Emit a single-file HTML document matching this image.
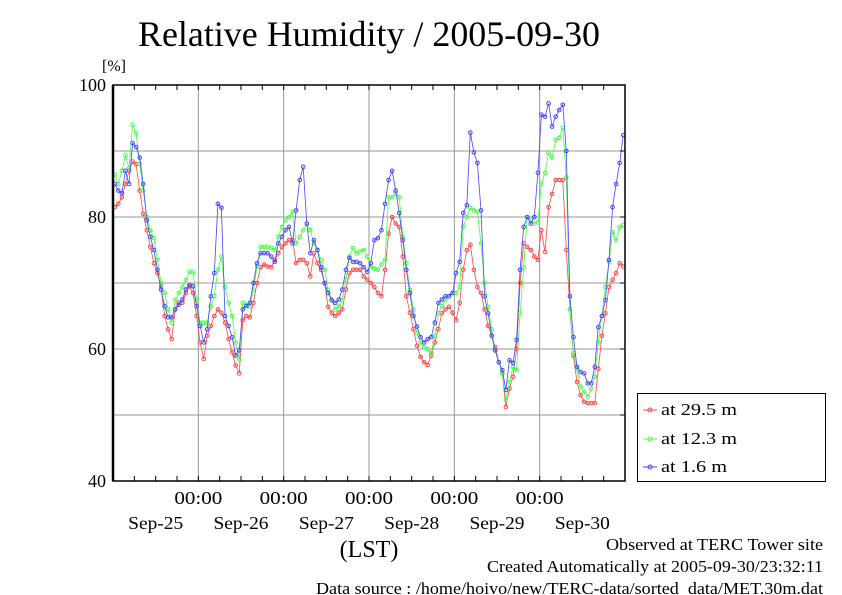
<!DOCTYPE html>
<html><head><meta charset="utf-8"><style>
body{margin:0;background:#fff}
svg{display:block;font-family:"Liberation Serif",serif}
</style></head><body>
<svg id="chart" width="842" height="595" viewBox="0 0 842 595" xmlns="http://www.w3.org/2000/svg">
<text x="369" y="46" font-size="36" text-anchor="middle" textLength="462" lengthAdjust="spacingAndGlyphs">Relative Humidity / 2005-09-30</text>
<text x="114" y="71" font-size="16" text-anchor="middle">[%]</text>
<g id="grid"></g>
<g id="series"></g>
<g id="axes"></g>
<text x="369" y="557" font-size="24" text-anchor="middle">(LST)</text>
<g>
<rect x="637.5" y="393.5" width="188" height="88" fill="#fff" stroke="#000" stroke-width="1"/>
<g><line x1="643" y1="410" x2="657" y2="410" stroke="#f44"/><circle cx="650" cy="410" r="2" fill="none" stroke="#f44"/><text x="661" y="415" font-size="17" textLength="76" lengthAdjust="spacingAndGlyphs">at 29.5 m</text></g>
<g><line x1="643" y1="439" x2="657" y2="439" stroke="#4f4"/><circle cx="650" cy="439" r="2" fill="none" stroke="#4f4"/><text x="661" y="444" font-size="17" textLength="76" lengthAdjust="spacingAndGlyphs">at 12.3 m</text></g>
<g><line x1="643" y1="467" x2="657" y2="467" stroke="#44f"/><circle cx="650" cy="467" r="2" fill="none" stroke="#44f"/><text x="661" y="472" font-size="17" textLength="66" lengthAdjust="spacingAndGlyphs">at 1.6 m</text></g>
</g>
<text x="823" y="550" font-size="17" text-anchor="end" textLength="217" lengthAdjust="spacingAndGlyphs">Observed at TERC Tower site</text>
<text x="823" y="572" font-size="17" text-anchor="end" textLength="336" lengthAdjust="spacingAndGlyphs">Created Automatically at 2005-09-30/23:32:11</text>
<text x="823" y="594" font-size="17" text-anchor="end" textLength="507" lengthAdjust="spacingAndGlyphs">Data source : /home/hoivo/new/TERC-data/sorted_data/MET.30m.dat</text>
</svg>
<script>
const yTicks=[40,60,80,100];
const yGrid=[50,60,70,80,90];
const dayLabels=["Sep-25","Sep-26","Sep-27","Sep-28","Sep-29","Sep-30"];
const red=[81.5,82,83,85,87,88.4,88,84,80.5,78,75.5,73,71.5,69.5,65,63,61.5,66,67,67,68.5,69.5,68.5,65,
61,58.5,62,63.5,65,66,65.5,64,61.5,59.5,57.5,56.3,64.4,65,64.8,67,70,72.4,72.8,72.5,72.4,73.5,74.5,75.5,
76,76.5,76.5,73,73.5,73.5,73,71,74.5,73,72,70,66.4,65.5,65,65.5,66,69,71.5,72,72,72,71,70.5,
70,69.4,68.5,68,72,77.5,80,79,78.5,74,68,65.5,63,60.5,58.8,58,57.6,59,61,63,65.4,66,66.4,65.5,
64.4,67,72,75,75.8,72,69.4,68.5,66,63.5,62,60.3,58,56.3,51.2,54,55.8,60,70,76,75.5,75,74,73.5,
78,74.7,81.5,83.5,85.6,85.6,85.6,75,66,59,55,53,52,51.8,51.8,51.8,57,62,65.4,69.4,70.5,71.5,73,72.5];
const green=[86.4,85,87,89.4,87.4,94,92.7,88,84,80,78,76.8,73.5,70,68.5,66,64,67.4,68.5,69.4,70.5,71.7,71.6,67.5,
64,64,64,66.5,68,72,74,69.4,67,65,61,58.4,67,66.7,66.4,69,72.5,75.5,75.5,75.5,75.3,75,77,78.5,
79.5,80,80.8,76,77,78,79,78,76,75,73.5,72,69,67.5,66,66.5,67.4,70.5,74,75.3,74.5,74.8,75,74,
72.4,72.2,72,72.8,73.5,83,83,83.6,83,77,73,69,66,62.4,61,60.3,60,59.4,62,65.4,66.5,67.4,68,68.5,
68.5,69.4,78.5,80,81.4,81,80.8,76,70,66.4,63,59.8,58,56.3,52.3,55,57.3,56.8,65.4,72.4,80,79.5,79,79.2,
85,86.7,89.7,89,91.7,92,93.5,86,66,59.4,57,54.3,53.5,52.8,54,55.8,61,65,69.4,73.2,77.7,76.5,78.5,78.8];
const blue=[85,84,83.6,87,85,91.2,90.6,89,85,79.5,77,75,72,69,66.5,64.8,64.8,66,66.7,67.5,69,69.7,69.5,66.5,
63.5,61,63,68,71.5,82,81.4,65,63.5,61.8,59,59.8,66,66.5,67,70,73,74.5,74.5,74.5,74,73.2,76,77,
78,78.5,76,81,85.6,87.6,79,74.5,76.5,75,72.4,70,68.5,67.4,67,67.5,69,72,73.8,73.2,73.2,73,72.4,71.7,
73,76.5,76.8,78,82,85.6,87,84,80.6,76.5,72,68.5,65,63.4,61.8,61,61.5,61.8,64,67,67.5,68,68,68.5,
71.5,73.2,80.6,81.8,92.8,89.8,88.2,81,68,65.4,62,59.8,58,56.8,53.8,58.3,57.9,61.4,72,78.5,80,79,80,86.7,
95.5,95.2,97.2,93.7,95.2,96.2,97,90,68,61.8,57.3,56.5,56.3,54.8,54.8,57.3,63.3,65,67.4,73.5,81.5,85,88.2,92.4];

const X0=113,X1=625,Y0=481,Y1=85,HOURS=144;
const xs=h=>X0+(X1-X0)*h/HOURS;
const ys=v=>Y0-(Y0-Y1)*(v-40)/60;
const NS="http://www.w3.org/2000/svg";
function mk(tag,attrs,parent){const e=document.createElementNS(NS,tag);for(const k in attrs)e.setAttribute(k,attrs[k]);parent.appendChild(e);return e;}
const grid=document.getElementById('grid'),axes=document.getElementById('axes'),ser=document.getElementById('series');
yGrid.forEach(v=>{const l=mk('line',{x1:X0,x2:X1,y1:ys(v),y2:ys(v),stroke:'#999','stroke-width':1},grid);

});
for(let d=1;d<6;d++){const x=xs(d*24);const l=mk('line',{x1:x,x2:x,y1:Y1,y2:Y0,stroke:'#999','stroke-width':1},grid);


const t=mk('text',{x:x,y:504,'font-size':18,'text-anchor':'middle',textLength:48,lengthAdjust:'spacingAndGlyphs'},axes);t.textContent='00:00';

}
dayLabels.forEach((s,i)=>{const t=mk('text',{x:xs(i*24+12),y:529,'font-size':18,'text-anchor':'middle',textLength:55,lengthAdjust:'spacingAndGlyphs'},axes);t.textContent=s;

});
for(let h=6;h<HOURS;h+=6){const x=xs(h);mk('line',{x1:x,x2:x,y1:Y1,y2:Y1+5,stroke:'#000'},axes);mk('line',{x1:x,x2:x,y1:Y0,y2:Y0-5,stroke:'#000'},axes);}
yTicks.forEach(v=>{const t=mk('text',{x:106,y:ys(v)+6,'font-size':18,'text-anchor':'end'},axes);t.textContent=v;

});
yGrid.concat(yTicks).forEach(v=>{mk('line',{x1:X1,x2:X1-5,y1:ys(v),y2:ys(v),stroke:'#000'},axes);});
const f=mk('rect',{x:X0,y:Y1,width:X1-X0,height:Y0-Y1,fill:'none',stroke:'#000','stroke-width':1.5},axes);


mk('line',{x1:X0,x2:X0,y1:Y1,y2:Y0,stroke:'#000','stroke-width':2.5},axes);
[[red,'#f44','series-29-5m'],[green,'#4f4','series-12-3m'],[blue,'#44f','series-1-6m']].forEach(([arr,c,n])=>{
const g=mk('g',{},ser);


const pts=arr.map((v,i)=>xs(i+0.5).toFixed(1)+','+ys(v).toFixed(1)).join(' ');
mk('polyline',{points:pts,fill:'none',stroke:c,'stroke-width':0.8},g);
arr.forEach((v,i)=>{const p=mk('circle',{cx:xs(i+0.5),cy:ys(v),r:1.8,fill:'none',stroke:c,'stroke-width':1},g);

});
});
</script>
</body></html>
